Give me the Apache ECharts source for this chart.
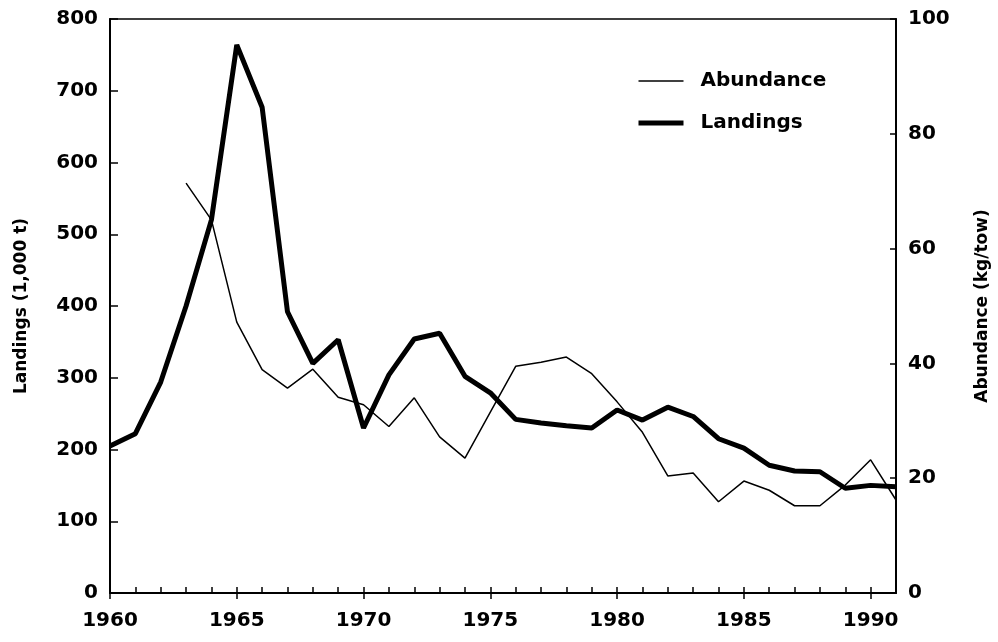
<!DOCTYPE html>
<html>
<head>
<meta charset="utf-8">
<script src="https://cdn.jsdelivr.net/npm/echarts@6/dist/echarts.min.js"></script>
<style>
html,body{margin:0;padding:0;background:#fff;}
#chart{width:998px;height:642px;}
</style>
</head>
<body>
<div id="chart"></div>
<script>
const years = [1960,1961,1962,1963,1964,1965,1966,1967,1968,1969,1970,1971,1972,1973,1974,1975,1976,1977,1978,1979,1980,1981,1982,1983,1984,1985,1986,1987,1988,1989,1990,1991];
const landings = [205,222,294,400,520,764,677,392,320,353,230,304,354,362,302,279,242,237,233,230,255,241,259,246,215,202,178,170,169,146,150,148];
const abundance = [null,null,null,71.4,65,47.2,38.9,35.7,39.0,34.1,32.8,29.0,34.0,27.2,23.5,31.5,39.5,40.2,41.1,38.2,33.3,28,20.4,20.9,15.9,19.5,17.9,15.2,15.2,18.8,23.2,16.2];
const xMajorTicks = [1960,1965,1970,1975,1980,1985,1990];
const leftTicks = [0,100,200,300,400,500,600,700,800];
const rightTicks = [0,20,40,60,80,100];
const seriesNames = ['Abundance','Landings'];
const axisNames = ['Landings (1,000 t)','Abundance (kg/tow)'];

const FONT = 'DejaVu Sans';
const THIN = 1.5, THICK = 5;
const chart = echarts.init(document.getElementById('chart'));
const lbl = {color:'#000', fontFamily:FONT, fontWeight:'bold', fontSize:20};

chart.setOption({
  animation:false,
  backgroundColor:'#fff',
  grid:{left:110, right:102, top:19, bottom:49, show:true, borderColor:'#000', borderWidth:1.5, containLabel:false, outerBoundsMode:'none'},
  legend:{
    orient:'vertical', left:631, top:66, itemWidth:45, itemHeight:14, itemGap:22,
    itemStyle:{opacity:0},
    textStyle:{color:'#000', fontFamily:FONT, fontWeight:'bold', fontSize:20, padding:[0,0,0,12]},
    data:[
      {name:seriesNames[0], lineStyle:{width:THIN, color:'#000'}, itemStyle:{opacity:0}},
      {name:seriesNames[1], lineStyle:{width:THICK, color:'#000'}, itemStyle:{opacity:0}}
    ]
  },
  xAxis:[{
    type:'value', min:years[0], max:years[years.length-1], interval:1,
    axisLine:{lineStyle:{color:'#000', width:2}},
    axisTick:{inside:true, length:6, lineStyle:{color:'#000', width:1.5}},
    axisLabel:Object.assign({margin:18, formatter:v=> xMajorTicks.indexOf(v)>=0 ? String(v) : ''}, lbl),
    splitLine:{show:false}
  },{
    type:'value', min:years[0], max:years[years.length-1], position:'bottom',
    axisLine:{show:false},
    axisTick:{show:true, inside:false, length:6, customValues:xMajorTicks, lineStyle:{color:'#000', width:1.5}},
    axisLabel:{show:false},
    splitLine:{show:false}
  }],
  yAxis:[{
    type:'value', min:0, max:800, interval:100, position:'left',
    name:axisNames[0], nameLocation:'middle', nameGap:80, nameRotate:90,
    nameTextStyle:{color:'#000', fontFamily:FONT, fontWeight:'bold', fontSize:17},
    axisLine:{show:true, lineStyle:{color:'#000', width:2}},
    axisTick:{show:true, inside:true, length:8, lineStyle:{color:'#000', width:1.5}},
    axisLabel:Object.assign({margin:12}, lbl),
    splitLine:{show:false}
  },{
    type:'value', min:0, max:100, interval:20, position:'right',
    name:axisNames[1], nameLocation:'middle', nameGap:78, nameRotate:90,
    nameTextStyle:{color:'#000', fontFamily:FONT, fontWeight:'bold', fontSize:17},
    axisLine:{show:true, lineStyle:{color:'#000', width:2}},
    axisTick:{show:true, inside:true, length:6, lineStyle:{color:'#000', width:1.5}},
    axisLabel:Object.assign({margin:12}, lbl),
    splitLine:{show:false}
  }],
  series:[{
    name:seriesNames[0], type:'line', yAxisIndex:1, symbol:'none', connectNulls:false,
    lineStyle:{color:'#000', width:THIN},
    itemStyle:{color:'#000'},
    data:years.map((y,i)=>[y, abundance[i]])
  },{
    name:seriesNames[1], type:'line', yAxisIndex:0, symbol:'none',
    lineStyle:{color:'#000', width:THICK},
    itemStyle:{color:'#000'},
    data:years.map((y,i)=>[y, landings[i]])
  }]
});
</script>
</body>
</html>
